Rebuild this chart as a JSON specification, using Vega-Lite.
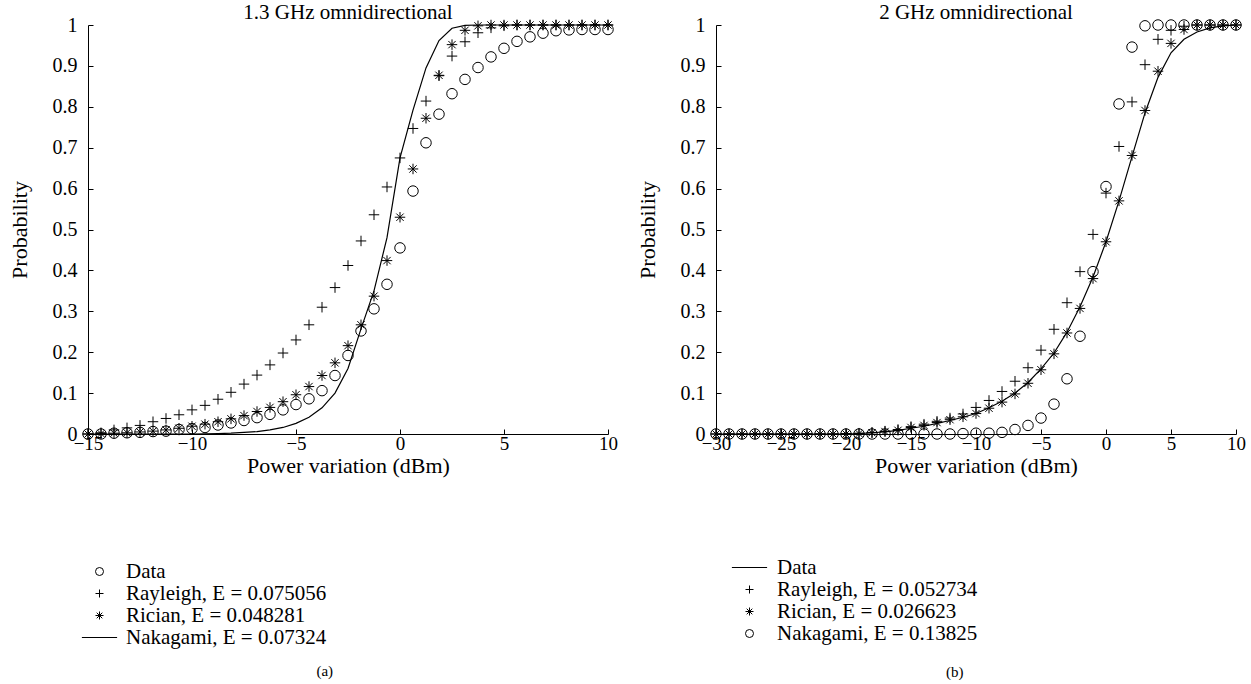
{
  "$schema": "https://vega.github.io/schema/vega-lite/v6.json",
  "padding": {"left": 8, "top": 2, "right": 5, "bottom": 0},
  "background": "white",
  "spacing": 18,
  "config": {
    "view": {"stroke": null},
    "font": "Liberation Serif",
    "axis": {"domainColor": "black", "tickColor": "black", "labelColor": "black", "titleColor": "black", "labelFont": "Liberation Serif", "titleFont": "Liberation Serif", "labelFontSize": 20, "titleFontSize": 22, "titleFontWeight": "normal", "grid": false, "tickSize": -5, "domainWidth": 1, "tickWidth": 1},
    "title": {"font": "Liberation Serif", "fontSize": 21, "fontWeight": "normal", "color": "black"}
  },
  "resolve": {"scale": {"shape": "independent", "x": "independent", "y": "independent"}, "legend": {"shape": "independent"}},
  "hconcat": [
    {
      "title": {"text": "(a)", "orient": "bottom", "anchor": "middle", "fontSize": 15, "offset": 16, "dx": 12},
      "vconcat": [
        {
          "title": {"text": "1.3 GHz omnidirectional", "offset": -8},
          "width": 520,
          "height": 409,
          "data": {"values": [
            {"s":"Data","x":-15,"y":0},{"s":"Data","x":-14.375,"y":0},{"s":"Data","x":-13.75,"y":0.002},{"s":"Data","x":-13.125,"y":0.003},{"s":"Data","x":-12.5,"y":0.004},{"s":"Data","x":-11.875,"y":0.006},{"s":"Data","x":-11.25,"y":0.007},{"s":"Data","x":-10.625,"y":0.011},{"s":"Data","x":-10,"y":0.013},{"s":"Data","x":-9.375,"y":0.016},{"s":"Data","x":-8.75,"y":0.022},{"s":"Data","x":-8.125,"y":0.027},{"s":"Data","x":-7.5,"y":0.033},{"s":"Data","x":-6.875,"y":0.04},{"s":"Data","x":-6.25,"y":0.048},{"s":"Data","x":-5.625,"y":0.059},{"s":"Data","x":-5,"y":0.072},{"s":"Data","x":-4.375,"y":0.086},{"s":"Data","x":-3.75,"y":0.106},{"s":"Data","x":-3.125,"y":0.143},{"s":"Data","x":-2.5,"y":0.192},{"s":"Data","x":-1.875,"y":0.252},{"s":"Data","x":-1.25,"y":0.306},{"s":"Data","x":-0.625,"y":0.366},{"s":"Data","x":0,"y":0.455},{"s":"Data","x":0.625,"y":0.594},{"s":"Data","x":1.25,"y":0.712},{"s":"Data","x":1.875,"y":0.782},{"s":"Data","x":2.5,"y":0.832},{"s":"Data","x":3.125,"y":0.867},{"s":"Data","x":3.75,"y":0.896},{"s":"Data","x":4.375,"y":0.922},{"s":"Data","x":5,"y":0.943},{"s":"Data","x":5.625,"y":0.96},{"s":"Data","x":6.25,"y":0.971},{"s":"Data","x":6.875,"y":0.98},{"s":"Data","x":7.5,"y":0.986},{"s":"Data","x":8.125,"y":0.988},{"s":"Data","x":8.75,"y":0.989},{"s":"Data","x":9.375,"y":0.989},{"s":"Data","x":10,"y":0.989},
            {"s":"Rayleigh, E = 0.075056","x":-15,"y":0},{"s":"Rayleigh, E = 0.075056","x":-14.375,"y":0.003},{"s":"Rayleigh, E = 0.075056","x":-13.75,"y":0.01},{"s":"Rayleigh, E = 0.075056","x":-13.125,"y":0.015},{"s":"Rayleigh, E = 0.075056","x":-12.5,"y":0.021},{"s":"Rayleigh, E = 0.075056","x":-11.875,"y":0.03},{"s":"Rayleigh, E = 0.075056","x":-11.25,"y":0.038},{"s":"Rayleigh, E = 0.075056","x":-10.625,"y":0.047},{"s":"Rayleigh, E = 0.075056","x":-10,"y":0.059},{"s":"Rayleigh, E = 0.075056","x":-9.375,"y":0.07},{"s":"Rayleigh, E = 0.075056","x":-8.75,"y":0.085},{"s":"Rayleigh, E = 0.075056","x":-8.125,"y":0.102},{"s":"Rayleigh, E = 0.075056","x":-7.5,"y":0.122},{"s":"Rayleigh, E = 0.075056","x":-6.875,"y":0.144},{"s":"Rayleigh, E = 0.075056","x":-6.25,"y":0.169},{"s":"Rayleigh, E = 0.075056","x":-5.625,"y":0.198},{"s":"Rayleigh, E = 0.075056","x":-5,"y":0.23},{"s":"Rayleigh, E = 0.075056","x":-4.375,"y":0.267},{"s":"Rayleigh, E = 0.075056","x":-3.75,"y":0.31},{"s":"Rayleigh, E = 0.075056","x":-3.125,"y":0.358},{"s":"Rayleigh, E = 0.075056","x":-2.5,"y":0.412},{"s":"Rayleigh, E = 0.075056","x":-1.875,"y":0.472},{"s":"Rayleigh, E = 0.075056","x":-1.25,"y":0.536},{"s":"Rayleigh, E = 0.075056","x":-0.625,"y":0.604},{"s":"Rayleigh, E = 0.075056","x":0,"y":0.675},{"s":"Rayleigh, E = 0.075056","x":0.625,"y":0.747},{"s":"Rayleigh, E = 0.075056","x":1.25,"y":0.814},{"s":"Rayleigh, E = 0.075056","x":1.875,"y":0.876},{"s":"Rayleigh, E = 0.075056","x":2.5,"y":0.924},{"s":"Rayleigh, E = 0.075056","x":3.125,"y":0.959},{"s":"Rayleigh, E = 0.075056","x":3.75,"y":0.981},{"s":"Rayleigh, E = 0.075056","x":4.375,"y":0.993},{"s":"Rayleigh, E = 0.075056","x":5,"y":0.998},{"s":"Rayleigh, E = 0.075056","x":5.625,"y":1},{"s":"Rayleigh, E = 0.075056","x":6.25,"y":1},{"s":"Rayleigh, E = 0.075056","x":6.875,"y":1},{"s":"Rayleigh, E = 0.075056","x":7.5,"y":1},{"s":"Rayleigh, E = 0.075056","x":8.125,"y":1},{"s":"Rayleigh, E = 0.075056","x":8.75,"y":1},{"s":"Rayleigh, E = 0.075056","x":9.375,"y":1},{"s":"Rayleigh, E = 0.075056","x":10,"y":1},
            {"s":"Rician, E = 0.048281","x":-15,"y":0},{"s":"Rician, E = 0.048281","x":-14.375,"y":0.001},{"s":"Rician, E = 0.048281","x":-13.75,"y":0.002},{"s":"Rician, E = 0.048281","x":-13.125,"y":0.003},{"s":"Rician, E = 0.048281","x":-12.5,"y":0.005},{"s":"Rician, E = 0.048281","x":-11.875,"y":0.007},{"s":"Rician, E = 0.048281","x":-11.25,"y":0.01},{"s":"Rician, E = 0.048281","x":-10.625,"y":0.014},{"s":"Rician, E = 0.048281","x":-10,"y":0.019},{"s":"Rician, E = 0.048281","x":-9.375,"y":0.024},{"s":"Rician, E = 0.048281","x":-8.75,"y":0.03},{"s":"Rician, E = 0.048281","x":-8.125,"y":0.037},{"s":"Rician, E = 0.048281","x":-7.5,"y":0.045},{"s":"Rician, E = 0.048281","x":-6.875,"y":0.055},{"s":"Rician, E = 0.048281","x":-6.25,"y":0.065},{"s":"Rician, E = 0.048281","x":-5.625,"y":0.079},{"s":"Rician, E = 0.048281","x":-5,"y":0.096},{"s":"Rician, E = 0.048281","x":-4.375,"y":0.116},{"s":"Rician, E = 0.048281","x":-3.75,"y":0.143},{"s":"Rician, E = 0.048281","x":-3.125,"y":0.174},{"s":"Rician, E = 0.048281","x":-2.5,"y":0.216},{"s":"Rician, E = 0.048281","x":-1.875,"y":0.267},{"s":"Rician, E = 0.048281","x":-1.25,"y":0.337},{"s":"Rician, E = 0.048281","x":-0.625,"y":0.424},{"s":"Rician, E = 0.048281","x":0,"y":0.53},{"s":"Rician, E = 0.048281","x":0.625,"y":0.648},{"s":"Rician, E = 0.048281","x":1.25,"y":0.772},{"s":"Rician, E = 0.048281","x":1.875,"y":0.877},{"s":"Rician, E = 0.048281","x":2.5,"y":0.952},{"s":"Rician, E = 0.048281","x":3.125,"y":0.987},{"s":"Rician, E = 0.048281","x":3.75,"y":0.998},{"s":"Rician, E = 0.048281","x":4.375,"y":1},{"s":"Rician, E = 0.048281","x":5,"y":1},{"s":"Rician, E = 0.048281","x":5.625,"y":1},{"s":"Rician, E = 0.048281","x":6.25,"y":1},{"s":"Rician, E = 0.048281","x":6.875,"y":1},{"s":"Rician, E = 0.048281","x":7.5,"y":1},{"s":"Rician, E = 0.048281","x":8.125,"y":1},{"s":"Rician, E = 0.048281","x":8.75,"y":1},{"s":"Rician, E = 0.048281","x":9.375,"y":1},{"s":"Rician, E = 0.048281","x":10,"y":1},
            {"s":"Nakagami, E = 0.07324","x":-15,"y":0},{"s":"Nakagami, E = 0.07324","x":-14.375,"y":0},{"s":"Nakagami, E = 0.07324","x":-13.75,"y":0},{"s":"Nakagami, E = 0.07324","x":-13.125,"y":0},{"s":"Nakagami, E = 0.07324","x":-12.5,"y":0},{"s":"Nakagami, E = 0.07324","x":-11.875,"y":0},{"s":"Nakagami, E = 0.07324","x":-11.25,"y":0},{"s":"Nakagami, E = 0.07324","x":-10.625,"y":0},{"s":"Nakagami, E = 0.07324","x":-10,"y":0},{"s":"Nakagami, E = 0.07324","x":-9.375,"y":0.0005},{"s":"Nakagami, E = 0.07324","x":-8.75,"y":0.001},{"s":"Nakagami, E = 0.07324","x":-8.125,"y":0.002},{"s":"Nakagami, E = 0.07324","x":-7.5,"y":0.004},{"s":"Nakagami, E = 0.07324","x":-6.875,"y":0.006},{"s":"Nakagami, E = 0.07324","x":-6.25,"y":0.01},{"s":"Nakagami, E = 0.07324","x":-5.625,"y":0.016},{"s":"Nakagami, E = 0.07324","x":-5,"y":0.026},{"s":"Nakagami, E = 0.07324","x":-4.375,"y":0.041},{"s":"Nakagami, E = 0.07324","x":-3.75,"y":0.064},{"s":"Nakagami, E = 0.07324","x":-3.125,"y":0.1},{"s":"Nakagami, E = 0.07324","x":-2.5,"y":0.16},{"s":"Nakagami, E = 0.07324","x":-1.875,"y":0.257},{"s":"Nakagami, E = 0.07324","x":-1.25,"y":0.35},{"s":"Nakagami, E = 0.07324","x":-0.625,"y":0.48},{"s":"Nakagami, E = 0.07324","x":0,"y":0.675},{"s":"Nakagami, E = 0.07324","x":0.625,"y":0.792},{"s":"Nakagami, E = 0.07324","x":1.25,"y":0.895},{"s":"Nakagami, E = 0.07324","x":1.875,"y":0.962},{"s":"Nakagami, E = 0.07324","x":2.5,"y":0.992},{"s":"Nakagami, E = 0.07324","x":3.125,"y":0.999},{"s":"Nakagami, E = 0.07324","x":3.75,"y":1},{"s":"Nakagami, E = 0.07324","x":4.375,"y":1},{"s":"Nakagami, E = 0.07324","x":5,"y":1},{"s":"Nakagami, E = 0.07324","x":5.625,"y":1},{"s":"Nakagami, E = 0.07324","x":6.25,"y":1},{"s":"Nakagami, E = 0.07324","x":6.875,"y":1},{"s":"Nakagami, E = 0.07324","x":7.5,"y":1},{"s":"Nakagami, E = 0.07324","x":8.125,"y":1},{"s":"Nakagami, E = 0.07324","x":8.75,"y":1},{"s":"Nakagami, E = 0.07324","x":9.375,"y":1},{"s":"Nakagami, E = 0.07324","x":10,"y":1}
          ]},
          "layer": [
            {
              "transform": [{"filter": "datum.s != 'Nakagami, E = 0.07324'"}],
              "mark": {"type": "point", "filled": false, "stroke": "black", "strokeWidth": 1, "size": 110, "opacity": 1},
              "encoding": {
                "x": {"field": "x", "type": "quantitative", "scale": {"domain": [-15, 10], "nice": false, "zero": false}, "axis": {"values": [-15, -10, -5, 0, 5, 10], "title": "Power variation (dBm)", "labelFlush": false, "labelFontSize": 19, "labelPadding": 5, "titlePadding": 2}},
                "y": {"field": "y", "type": "quantitative", "scale": {"domain": [0, 1], "nice": false}, "axis": {"values": [0, 0.1, 0.2, 0.3, 0.4, 0.5, 0.6, 0.7, 0.8, 0.9, 1], "format": ".1~f", "title": "Probability", "labelPadding": 16, "titlePadding": 21}},
                "shape": {"field": "s", "type": "nominal",
                  "scale": {"domain": ["Data", "Rayleigh, E = 0.075056", "Rician, E = 0.048281", "Nakagami, E = 0.07324"], "range": ["circle", "M-1,0H1M0,-1V1", "M-1,0H1M0,-1V1M-0.7,-0.7L0.7,0.7M-0.7,0.7L0.7,-0.7", "M-4.4,0H4.4"]},
                  "legend": {"orient": "none", "legendX": 1, "legendY": 536, "title": null, "labelFont": "Liberation Serif", "labelFontSize": 21, "labelLimit": 0, "labelColor": "black", "symbolSize": 64, "symbolStrokeColor": "black", "symbolStrokeWidth": 1, "symbolFillColor": "transparent", "labelOffset": 16, "rowPadding": 0, "padding": 0}}
              }
            },
            {
              "transform": [{"filter": "datum.s == 'Nakagami, E = 0.07324'"}],
              "mark": {"type": "line", "color": "black", "strokeWidth": 1.2},
              "encoding": {"x": {"field": "x", "type": "quantitative"}, "y": {"field": "y", "type": "quantitative"}}
            }
          ]
        }
      ]
    },
    {
      "title": {"text": "(b)", "orient": "bottom", "anchor": "middle", "fontSize": 15, "offset": 21, "dx": 14},
      "vconcat": [
        {
          "title": {"text": "2 GHz omnidirectional", "offset": -8},
          "width": 520,
          "height": 409,
          "data": {"values": [
            {"s":"Data","x":-30,"y":0},{"s":"Data","x":-29,"y":0},{"s":"Data","x":-28,"y":0},{"s":"Data","x":-27,"y":0},{"s":"Data","x":-26,"y":0},{"s":"Data","x":-25,"y":0},{"s":"Data","x":-24,"y":0},{"s":"Data","x":-23,"y":0},{"s":"Data","x":-22,"y":0},{"s":"Data","x":-21,"y":0},{"s":"Data","x":-20,"y":0},{"s":"Data","x":-19,"y":0.001},{"s":"Data","x":-18,"y":0.003},{"s":"Data","x":-17,"y":0.005},{"s":"Data","x":-16,"y":0.009},{"s":"Data","x":-15,"y":0.014},{"s":"Data","x":-14,"y":0.019},{"s":"Data","x":-13,"y":0.026},{"s":"Data","x":-12,"y":0.033},{"s":"Data","x":-11,"y":0.041},{"s":"Data","x":-10,"y":0.05},{"s":"Data","x":-9,"y":0.064},{"s":"Data","x":-8,"y":0.08},{"s":"Data","x":-7,"y":0.1},{"s":"Data","x":-6,"y":0.126},{"s":"Data","x":-5,"y":0.159},{"s":"Data","x":-4,"y":0.198},{"s":"Data","x":-3,"y":0.249},{"s":"Data","x":-2,"y":0.311},{"s":"Data","x":-1,"y":0.384},{"s":"Data","x":0,"y":0.47},{"s":"Data","x":1,"y":0.57},{"s":"Data","x":2,"y":0.678},{"s":"Data","x":3,"y":0.785},{"s":"Data","x":4,"y":0.872},{"s":"Data","x":5,"y":0.932},{"s":"Data","x":6,"y":0.965},{"s":"Data","x":7,"y":0.983},{"s":"Data","x":8,"y":0.993},{"s":"Data","x":9,"y":0.998},{"s":"Data","x":10,"y":1},
            {"s":"Rayleigh, E = 0.052734","x":-30,"y":0},{"s":"Rayleigh, E = 0.052734","x":-29,"y":0},{"s":"Rayleigh, E = 0.052734","x":-28,"y":0},{"s":"Rayleigh, E = 0.052734","x":-27,"y":0},{"s":"Rayleigh, E = 0.052734","x":-26,"y":0},{"s":"Rayleigh, E = 0.052734","x":-25,"y":0},{"s":"Rayleigh, E = 0.052734","x":-24,"y":0},{"s":"Rayleigh, E = 0.052734","x":-23,"y":0},{"s":"Rayleigh, E = 0.052734","x":-22,"y":0},{"s":"Rayleigh, E = 0.052734","x":-21,"y":0},{"s":"Rayleigh, E = 0.052734","x":-20,"y":0.001},{"s":"Rayleigh, E = 0.052734","x":-19,"y":0.002},{"s":"Rayleigh, E = 0.052734","x":-18,"y":0.004},{"s":"Rayleigh, E = 0.052734","x":-17,"y":0.007},{"s":"Rayleigh, E = 0.052734","x":-16,"y":0.011},{"s":"Rayleigh, E = 0.052734","x":-15,"y":0.018},{"s":"Rayleigh, E = 0.052734","x":-14,"y":0.024},{"s":"Rayleigh, E = 0.052734","x":-13,"y":0.031},{"s":"Rayleigh, E = 0.052734","x":-12,"y":0.039},{"s":"Rayleigh, E = 0.052734","x":-11,"y":0.049},{"s":"Rayleigh, E = 0.052734","x":-10,"y":0.065},{"s":"Rayleigh, E = 0.052734","x":-9,"y":0.082},{"s":"Rayleigh, E = 0.052734","x":-8,"y":0.104},{"s":"Rayleigh, E = 0.052734","x":-7,"y":0.129},{"s":"Rayleigh, E = 0.052734","x":-6,"y":0.162},{"s":"Rayleigh, E = 0.052734","x":-5,"y":0.205},{"s":"Rayleigh, E = 0.052734","x":-4,"y":0.256},{"s":"Rayleigh, E = 0.052734","x":-3,"y":0.321},{"s":"Rayleigh, E = 0.052734","x":-2,"y":0.397},{"s":"Rayleigh, E = 0.052734","x":-1,"y":0.488},{"s":"Rayleigh, E = 0.052734","x":0,"y":0.589},{"s":"Rayleigh, E = 0.052734","x":1,"y":0.703},{"s":"Rayleigh, E = 0.052734","x":2,"y":0.812},{"s":"Rayleigh, E = 0.052734","x":3,"y":0.903},{"s":"Rayleigh, E = 0.052734","x":4,"y":0.965},{"s":"Rayleigh, E = 0.052734","x":5,"y":0.987},{"s":"Rayleigh, E = 0.052734","x":6,"y":0.997},{"s":"Rayleigh, E = 0.052734","x":7,"y":1},{"s":"Rayleigh, E = 0.052734","x":8,"y":1},{"s":"Rayleigh, E = 0.052734","x":9,"y":1},{"s":"Rayleigh, E = 0.052734","x":10,"y":1},
            {"s":"Rician, E = 0.026623","x":-30,"y":0},{"s":"Rician, E = 0.026623","x":-29,"y":0},{"s":"Rician, E = 0.026623","x":-28,"y":0},{"s":"Rician, E = 0.026623","x":-27,"y":0},{"s":"Rician, E = 0.026623","x":-26,"y":0},{"s":"Rician, E = 0.026623","x":-25,"y":0},{"s":"Rician, E = 0.026623","x":-24,"y":0},{"s":"Rician, E = 0.026623","x":-23,"y":0},{"s":"Rician, E = 0.026623","x":-22,"y":0},{"s":"Rician, E = 0.026623","x":-21,"y":0},{"s":"Rician, E = 0.026623","x":-20,"y":0},{"s":"Rician, E = 0.026623","x":-19,"y":0.001},{"s":"Rician, E = 0.026623","x":-18,"y":0.003},{"s":"Rician, E = 0.026623","x":-17,"y":0.006},{"s":"Rician, E = 0.026623","x":-16,"y":0.009},{"s":"Rician, E = 0.026623","x":-15,"y":0.016},{"s":"Rician, E = 0.026623","x":-14,"y":0.021},{"s":"Rician, E = 0.026623","x":-13,"y":0.028},{"s":"Rician, E = 0.026623","x":-12,"y":0.035},{"s":"Rician, E = 0.026623","x":-11,"y":0.042},{"s":"Rician, E = 0.026623","x":-10,"y":0.05},{"s":"Rician, E = 0.026623","x":-9,"y":0.063},{"s":"Rician, E = 0.026623","x":-8,"y":0.078},{"s":"Rician, E = 0.026623","x":-7,"y":0.098},{"s":"Rician, E = 0.026623","x":-6,"y":0.124},{"s":"Rician, E = 0.026623","x":-5,"y":0.157},{"s":"Rician, E = 0.026623","x":-4,"y":0.196},{"s":"Rician, E = 0.026623","x":-3,"y":0.247},{"s":"Rician, E = 0.026623","x":-2,"y":0.307},{"s":"Rician, E = 0.026623","x":-1,"y":0.38},{"s":"Rician, E = 0.026623","x":0,"y":0.47},{"s":"Rician, E = 0.026623","x":1,"y":0.57},{"s":"Rician, E = 0.026623","x":2,"y":0.681},{"s":"Rician, E = 0.026623","x":3,"y":0.791},{"s":"Rician, E = 0.026623","x":4,"y":0.887},{"s":"Rician, E = 0.026623","x":5,"y":0.955},{"s":"Rician, E = 0.026623","x":6,"y":0.989},{"s":"Rician, E = 0.026623","x":7,"y":1},{"s":"Rician, E = 0.026623","x":8,"y":1},{"s":"Rician, E = 0.026623","x":9,"y":1},{"s":"Rician, E = 0.026623","x":10,"y":1},
            {"s":"Nakagami, E = 0.13825","x":-30,"y":0},{"s":"Nakagami, E = 0.13825","x":-29,"y":0},{"s":"Nakagami, E = 0.13825","x":-28,"y":0},{"s":"Nakagami, E = 0.13825","x":-27,"y":0},{"s":"Nakagami, E = 0.13825","x":-26,"y":0},{"s":"Nakagami, E = 0.13825","x":-25,"y":0},{"s":"Nakagami, E = 0.13825","x":-24,"y":0},{"s":"Nakagami, E = 0.13825","x":-23,"y":0},{"s":"Nakagami, E = 0.13825","x":-22,"y":0},{"s":"Nakagami, E = 0.13825","x":-21,"y":0},{"s":"Nakagami, E = 0.13825","x":-20,"y":0},{"s":"Nakagami, E = 0.13825","x":-19,"y":0},{"s":"Nakagami, E = 0.13825","x":-18,"y":0},{"s":"Nakagami, E = 0.13825","x":-17,"y":0},{"s":"Nakagami, E = 0.13825","x":-16,"y":0},{"s":"Nakagami, E = 0.13825","x":-15,"y":0},{"s":"Nakagami, E = 0.13825","x":-14,"y":0},{"s":"Nakagami, E = 0.13825","x":-13,"y":0},{"s":"Nakagami, E = 0.13825","x":-12,"y":0},{"s":"Nakagami, E = 0.13825","x":-11,"y":0.001},{"s":"Nakagami, E = 0.13825","x":-10,"y":0.002},{"s":"Nakagami, E = 0.13825","x":-9,"y":0.002},{"s":"Nakagami, E = 0.13825","x":-8,"y":0.004},{"s":"Nakagami, E = 0.13825","x":-7,"y":0.011},{"s":"Nakagami, E = 0.13825","x":-6,"y":0.021},{"s":"Nakagami, E = 0.13825","x":-5,"y":0.039},{"s":"Nakagami, E = 0.13825","x":-4,"y":0.073},{"s":"Nakagami, E = 0.13825","x":-3,"y":0.135},{"s":"Nakagami, E = 0.13825","x":-2,"y":0.239},{"s":"Nakagami, E = 0.13825","x":-1,"y":0.397},{"s":"Nakagami, E = 0.13825","x":0,"y":0.605},{"s":"Nakagami, E = 0.13825","x":1,"y":0.807},{"s":"Nakagami, E = 0.13825","x":2,"y":0.946},{"s":"Nakagami, E = 0.13825","x":3,"y":0.998},{"s":"Nakagami, E = 0.13825","x":4,"y":1},{"s":"Nakagami, E = 0.13825","x":5,"y":1},{"s":"Nakagami, E = 0.13825","x":6,"y":1},{"s":"Nakagami, E = 0.13825","x":7,"y":1},{"s":"Nakagami, E = 0.13825","x":8,"y":1},{"s":"Nakagami, E = 0.13825","x":9,"y":1},{"s":"Nakagami, E = 0.13825","x":10,"y":1}
          ]},
          "layer": [
            {
              "transform": [{"filter": "datum.s != 'Data'"}],
              "mark": {"type": "point", "filled": false, "stroke": "black", "strokeWidth": 1, "size": 110, "opacity": 1},
              "encoding": {
                "x": {"field": "x", "type": "quantitative", "scale": {"domain": [-30, 10], "nice": false, "zero": false}, "axis": {"values": [-30, -25, -20, -15, -10, -5, 0, 5, 10], "title": "Power variation (dBm)", "labelFlush": false, "labelFontSize": 19, "labelPadding": 5, "titlePadding": 2}},
                "y": {"field": "y", "type": "quantitative", "scale": {"domain": [0, 1], "nice": false}, "axis": {"values": [0, 0.1, 0.2, 0.3, 0.4, 0.5, 0.6, 0.7, 0.8, 0.9, 1], "format": ".1~f", "title": "Probability", "labelPadding": 16, "titlePadding": 21}},
                "shape": {"field": "s", "type": "nominal",
                  "scale": {"domain": ["Data", "Rayleigh, E = 0.052734", "Rician, E = 0.026623", "Nakagami, E = 0.13825"], "range": ["M-4.4,0H4.4", "M-1,0H1M0,-1V1", "M-1,0H1M0,-1V1M-0.7,-0.7L0.7,0.7M-0.7,0.7L0.7,-0.7", "circle"]},
                  "legend": {"orient": "none", "legendX": 23, "legendY": 532, "title": null, "labelFont": "Liberation Serif", "labelFontSize": 21, "labelLimit": 0, "labelColor": "black", "symbolSize": 64, "symbolStrokeColor": "black", "symbolStrokeWidth": 1, "symbolFillColor": "transparent", "labelOffset": 17, "rowPadding": 0, "padding": 0}}
              }
            },
            {
              "transform": [{"filter": "datum.s == 'Data'"}],
              "mark": {"type": "line", "color": "black", "strokeWidth": 1.2},
              "encoding": {"x": {"field": "x", "type": "quantitative"}, "y": {"field": "y", "type": "quantitative"}}
            }
          ]
        }
      ]
    }
  ]
}
